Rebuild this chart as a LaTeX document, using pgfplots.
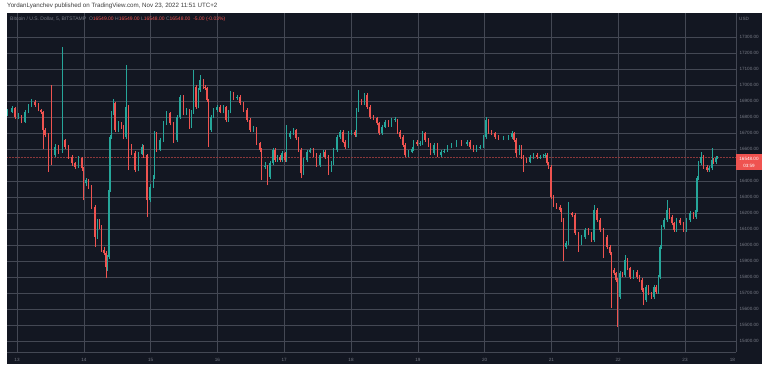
\documentclass[border=0pt]{standalone}
\usepackage{fontspec}
\setmainfont{Liberation Sans}
\usepackage{pgfplots}
\pgfplotsset{compat=1.18}
\usepackage{pgfplotstable}
\definecolor{panel}{RGB}{19,23,34}
\definecolor{gridc}{RGB}{68,72,84}
\definecolor{txtc}{RGB}{120,123,134}
\definecolor{upc}{RGB}{38,166,154}
\definecolor{dnc}{RGB}{239,83,80}
\definecolor{hdr}{RGB}{60,60,60}

\pgfplotstableread{
t o h l c
12.855 16820 16850 16805 16833
12.921 16833 16870 16825 16856
12.970 16856 16862 16790 16802
13.019 16802 16825 16790 16806
13.070 16806 16815 16760 16771
13.120 16771 16845 16765 16833
13.169 16833 16880 16825 16870
13.220 16870 16910 16862 16896
13.269 16896 16905 16865 16875
13.319 16875 16885 16835 16844
13.355 16844 16852 16820 16830
13.385 16830 16840 16600 16719
13.419 16719 16730 16675 16687
13.469 16687 16700 16458 16510
13.519 16580 17000 16500 16562
13.569 16562 16630 16550 16615
13.618 16615 16625 16570 16583
13.684 16583 17240 16575 16656
13.719 16656 16665 16600 16615
13.768 16615 16625 16540 16552
13.819 16552 16565 16495 16510
13.868 16510 16520 16478 16490
13.918 16490 16555 16480 16542
13.969 16542 16550 16465 16479
13.993 16479 16490 16281 16385
14.033 16385 16420 16370 16406
14.067 16406 16415 16350 16365
14.118 16365 16375 16225 16240
14.168 16240 16250 15990 16052
14.202 16052 16160 16040 16146
14.232 16146 16160 16100 16115
14.268 16115 16125 15955 15969
14.302 15969 15985 15935 15948
14.332 15948 15960 15792 15860
14.355 15860 15940 15840 15927
14.374 15927 16360 15915 16344
14.392 16344 16690 16330 16677
14.415 16677 16840 16665 16823
14.442 16823 16910 16810 16885
14.467 16885 16895 16705 16719
14.516 16719 16775 16705 16760
14.567 16760 16770 16725 16740
14.591 16740 16750 16660 16677
14.632 16677 17125 16665 16864
14.666 16864 16875 16469 16615
14.717 16615 16630 16560 16573
14.766 16573 16585 16455 16469
14.816 16469 16580 16460 16570
14.867 16570 16630 16560 16615
14.891 16615 16625 16545 16560
14.942 16560 16570 16177 16281
14.991 16281 16380 16270 16365
15.040 16365 16440 16355 16427
15.058 16427 16712 16415 16698
15.091 16698 16708 16580 16594
15.141 16594 16670 16585 16656
15.190 16656 16775 16645 16760
15.241 16760 16835 16750 16823
15.290 16823 16832 16748 16760
15.340 16760 16770 16640 16656
15.391 16656 16815 16645 16802
15.440 16802 16940 16790 16927
15.490 16927 16935 16810 16823
15.540 16823 16858 16812 16844
15.579 16844 16852 16728 16740
15.613 16740 16842 16730 16830
15.643 16830 17094 16820 16990
15.680 16990 17000 16850 16864
15.714 16864 16980 16855 16969
15.740 16969 17062 16958 17031
15.789 17031 17040 16978 16990
15.814 16990 17000 16970 16980
15.840 16980 16990 16895 16906
15.864 16906 16915 16615 16719
15.900 16719 16815 16708 16802
15.939 16802 16858 16792 16844
15.990 16844 16878 16832 16864
16.039 16864 16875 16822 16833
16.088 16833 16872 16822 16860
16.129 16860 16870 16770 16781
16.163 16781 16845 16770 16833
16.199 16833 16960 16822 16948
16.238 16948 16958 16905 16917
16.289 16917 16940 16905 16927
16.338 16927 16937 16875 16885
16.388 16885 16895 16832 16844
16.439 16844 16855 16770 16781
16.488 16781 16792 16708 16719
16.537 16719 16742 16708 16730
16.588 16730 16740 16625 16635
16.638 16635 16645 16582 16594
16.663 16594 16605 16406 16490
16.713 16490 16520 16478 16492
16.747 16492 16500 16375 16427
16.787 16427 16522 16415 16510
16.828 16510 16606 16500 16594
16.862 16594 16605 16520 16531
16.897 16531 16565 16520 16552
16.937 16552 16562 16520 16531
16.963 16531 16585 16520 16573
17.012 16573 16583 16520 16531
17.037 16531 16750 16520 16677
17.087 16677 16710 16665 16698
17.136 16698 16730 16688 16719
17.177 16719 16728 16655 16667
17.211 16667 16677 16582 16594
17.251 16594 16605 16417 16448
17.286 16448 16543 16438 16531
17.337 16531 16595 16520 16583
17.386 16583 16606 16572 16594
17.436 16594 16604 16550 16562
17.486 16562 16572 16488 16500
17.536 16500 16572 16490 16560
17.585 16560 16595 16550 16583
17.611 16583 16592 16538 16550
17.661 16550 16560 16437 16469
17.711 16469 16522 16458 16510
17.735 16510 16606 16500 16594
17.786 16594 16690 16582 16677
17.835 16677 16720 16665 16708
17.876 16708 16718 16635 16646
17.910 16646 16655 16603 16615
17.960 16615 16710 16605 16698
18.010 16698 16720 16688 16708
18.060 16708 16718 16675 16687
18.085 16687 16856 16675 16844
18.110 16844 16969 16832 16906
18.160 16906 16915 16872 16885
18.199 16885 16950 16875 16937
18.235 16937 16947 16852 16864
18.284 16864 16875 16790 16802
18.334 16802 16812 16780 16792
18.385 16792 16802 16748 16760
18.419 16760 16770 16686 16698
18.460 16698 16752 16688 16740
18.509 16740 16783 16730 16771
18.558 16771 16780 16738 16750
18.609 16750 16793 16740 16781
18.659 16781 16800 16770 16785
18.693 16785 16790 16696 16708
18.733 16708 16718 16665 16677
18.774 16677 16687 16613 16625
18.808 16625 16635 16550 16562
18.858 16562 16595 16552 16583
18.909 16583 16612 16572 16600
18.933 16600 16658 16590 16646
18.984 16646 16656 16620 16630
19.033 16630 16647 16620 16635
19.073 16635 16710 16625 16698
19.108 16698 16708 16645 16656
19.157 16656 16666 16613 16625
19.193 16625 16635 16560 16573
19.242 16573 16637 16562 16625
19.292 16625 16635 16550 16562
19.343 16562 16595 16552 16583
19.392 16583 16600 16572 16590
19.442 16590 16627 16580 16615
19.507 16615 16637 16605 16625
19.582 16625 16658 16615 16646
19.657 16646 16656 16620 16630
19.732 16630 16658 16620 16646
19.781 16646 16656 16603 16615
19.831 16615 16625 16582 16594
19.881 16594 16622 16584 16610
19.931 16610 16627 16600 16615
19.980 16615 16690 16605 16677
20.021 16677 16800 16665 16781
20.055 16781 16790 16696 16708
20.106 16708 16718 16686 16698
20.155 16698 16708 16665 16677
20.205 16677 16687 16655 16667
20.280 16667 16680 16655 16670
20.355 16670 16690 16655 16677
20.406 16677 16710 16665 16698
20.440 16698 16708 16645 16656
20.470 16656 16666 16552 16573
20.519 16573 16627 16562 16615
20.555 16615 16625 16540 16552
20.579 16552 16562 16458 16531
20.630 16531 16541 16510 16521
20.680 16521 16564 16510 16552
20.729 16552 16574 16540 16562
20.780 16562 16572 16538 16550
20.829 16550 16564 16540 16552
20.879 16552 16568 16544 16556
20.904 16556 16574 16546 16562
20.930 16562 16572 16498 16510
20.956 16510 16520 16478 16490
20.993 16490 16500 16288 16300
21.031 16300 16310 16238 16250
21.079 16250 16262 16228 16240
21.129 16240 16250 16207 16219
21.154 16219 16229 16144 16156
21.178 16156 16166 15900 15990
21.219 15990 16022 15978 16010
21.253 16010 16271 15998 16198
21.304 16198 16208 16175 16187
21.353 16187 16197 16061 16073
21.403 16073 16083 15958 16010
21.453 16010 16064 15998 16052
21.503 16052 16106 16040 16094
21.552 16094 16104 16061 16073
21.603 16073 16083 16019 16031
21.638 16031 16250 16020 16219
21.678 16219 16229 16144 16156
21.727 16156 16166 16082 16094
21.777 16094 16104 15917 16052
21.828 16052 16062 15978 15990
21.877 15990 16000 15936 15948
21.902 15948 15958 15604 15844
21.937 15844 15854 15811 15823
21.967 15823 15833 15769 15781
21.992 15781 15791 15490 15677
22.027 15677 15835 15665 15823
22.064 15823 15833 15798 15810
22.102 15810 15937 15798 15906
22.136 15906 15916 15842 15854
22.177 15854 15864 15790 15802
22.226 15802 15845 15790 15833
22.277 15833 15843 15790 15802
22.316 15802 15812 15769 15781
22.352 15781 15791 15707 15719
22.376 15719 15729 15625 15656
22.416 15656 15752 15644 15740
22.451 15740 15750 15686 15698
22.501 15698 15708 15665 15677
22.536 15677 15752 15665 15740
22.566 15740 15750 15696 15708
22.600 15708 15814 15696 15802
22.626 15802 16002 15790 15990
22.651 15990 16127 15978 16115
22.686 16115 16168 16103 16156
22.726 16156 16281 16144 16219
22.765 16219 16229 16165 16177
22.801 16177 16187 16123 16135
22.835 16135 16145 16082 16094
22.875 16094 16168 16082 16156
22.925 16156 16166 16123 16135
22.974 16135 16145 16082 16094
23.025 16094 16168 16082 16156
23.075 16156 16210 16144 16198
23.124 16198 16208 16165 16177
23.160 16177 16231 16165 16219
23.180 16219 16432 16207 16420
23.199 16420 16522 16408 16510
23.235 16510 16580 16498 16552
23.274 16552 16562 16478 16490
23.325 16490 16500 16457 16469
23.359 16469 16492 16457 16480
23.400 16480 16604 16468 16531
23.425 16531 16541 16509 16521
23.461 16521 16554 16509 16542
23.487 16542 16555 16535 16548
}\candles

\begin{document}
\begin{tikzpicture}
\fill[white] (0pt,0pt) rectangle (769pt,368pt);
\fill[panel] (7pt,4pt) rectangle (762pt,355pt);
\begin{axis}[at={(7pt,16pt)}, anchor=south west, scale only axis,
  width=729pt, height=339pt,
  xmin=12.850, xmax=23.763, ymin=15331.25, ymax=17450,
  axis x line*=bottom, axis y line*=right,
  axis line style={gridc, line width=0.6pt},
  grid=major, major grid style={gridc, line width=0.6pt},
  xtick={13,14,15,16,17,18,19,20,21,22,23},
  ytick={15400,15500,15600,15700,15800,15900,16000,16100,16200,16300,16400,16600,16700,16800,16900,17000,17100,17200,17300},
  scaled y ticks=false, scaled x ticks=false,
  major tick length=0pt,
  extra x ticks={23.71}, extra x tick labels={18}, extra x tick style={grid=none},
  extra y ticks={16500}, extra y tick labels={}, extra y tick style={grid=major},
  ticklabel style={font=\fontsize{4.6}{5}\selectfont, text=txtc},
  /pgf/number format/assume math mode=true,
  yticklabel style={/pgf/number format/fixed, /pgf/number format/fixed zerofill,
    /pgf/number format/precision=2, /pgf/number format/1000 sep={}},
  xticklabel style={yshift=-3pt},
  unbounded coords=discard,
  clip=true]
\addplot[dnc!55!panel, densely dotted, line width=0.5pt] coordinates {(12.85,16548) (23.763,16548)};
% up candles
\addplot[draw=none, mark=none, error bars/.cd, y dir=plus, y explicit, error mark=none,
  error bar style={line width=0.45pt, draw=upc, solid}]
  table[x=t, y expr={\thisrow{c}>=\thisrow{o} ? \thisrow{l} : nan}, y error expr={\thisrow{h}-\thisrow{l}}] {\candles};
\addplot[draw=none, mark=none, error bars/.cd, y dir=plus, y explicit, error mark=none,
  error bar style={line width=1.5pt, draw=upc, solid}]
  table[x=t, y expr={\thisrow{c}>=\thisrow{o} ? \thisrow{o} : nan}, y error expr={\thisrow{c}-\thisrow{o}}] {\candles};
% down candles
\addplot[draw=none, mark=none, error bars/.cd, y dir=plus, y explicit, error mark=none,
  error bar style={line width=0.45pt, draw=dnc, solid}]
  table[x=t, y expr={\thisrow{c}<\thisrow{o} ? \thisrow{l} : nan}, y error expr={\thisrow{h}-\thisrow{l}}] {\candles};
\addplot[draw=none, mark=none, error bars/.cd, y dir=plus, y explicit, error mark=none,
  error bar style={line width=1.5pt, draw=dnc, solid}]
  table[x=t, y expr={\thisrow{c}<\thisrow{o} ? \thisrow{c} : nan}, y error expr={\thisrow{o}-\thisrow{c}}] {\candles};
\end{axis}
\node[anchor=west, inner sep=0pt, font=\fontsize{6.2}{7}\selectfont, text=hdr] at (7pt,362pt)
  {YordanLyanchev published on TradingView.com, Nov 23, 2022 11:51 UTC+2};
\node[anchor=west, inner sep=0pt, font=\fontsize{5}{6}\selectfont] at (10pt,349pt)
  {\textcolor{txtc}{Bitcoin / U.S. Dollar, 5, BITSTAMP\ \ O}\textcolor{dnc}{16549.00}\ \textcolor{txtc}{H}\textcolor{dnc}{16549.00}\ \textcolor{txtc}{L}\textcolor{dnc}{16548.00}\ \textcolor{txtc}{C}\textcolor{dnc}{16548.00}\ \ \textcolor{dnc}{-5.00 (-0.03\%)}};
\node[anchor=west, inner sep=0pt, font=\fontsize{4.6}{5}\selectfont, text=txtc] at (739pt,349pt) {USD};
\fill[dnc] (736pt,198pt) rectangle (762pt,214pt);
\node[inner sep=0pt, font=\fontsize{4.6}{5}\selectfont, text=white] at (749pt,209.5pt) {16548.00};
\node[inner sep=0pt, font=\fontsize{4.6}{5}\selectfont, text=white] at (749pt,202.5pt) {03:59};
\end{tikzpicture}
\end{document}
